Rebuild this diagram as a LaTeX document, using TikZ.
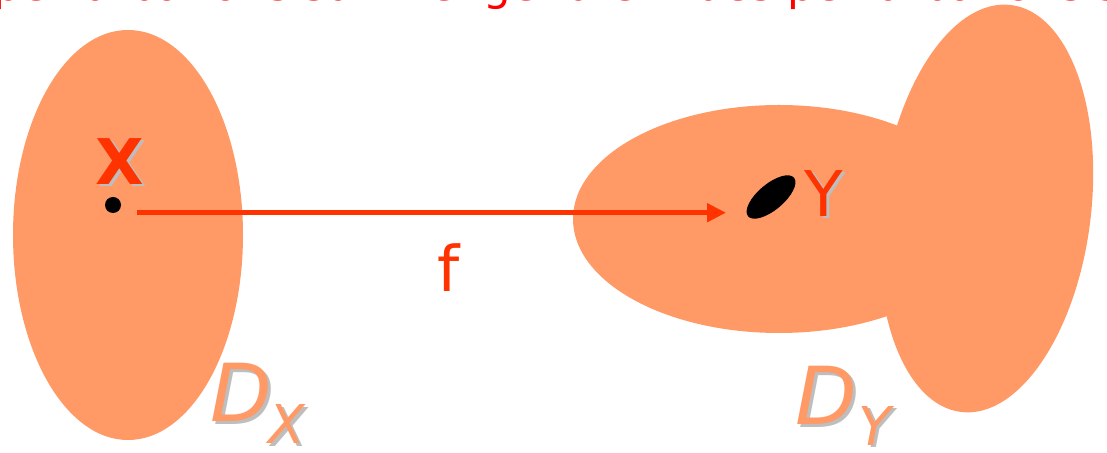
\documentclass[tikz,border=0pt]{standalone}
\usepackage{fontspec}
\setmainfont{DejaVu Sans}
\usetikzlibrary{arrows.meta}
\definecolor{salmon}{HTML}{FF9966}
\definecolor{fred}{HTML}{FF3300}
\definecolor{shade}{HTML}{BEBEBE}
\begin{document}
\begin{tikzpicture}[x=0.5pt,y=-0.5pt,
  lbl/.style={inner sep=0pt, outer sep=0pt, anchor=base},
  lblw/.style={inner sep=0pt, outer sep=0pt, anchor=base west},
  bigfont/.style={font=\fontsize{31.5}{31.5}\selectfont},
  dfont/.style={font=\fontsize{40}{40}\selectfont\itshape},
  subfont/.style={font=\fontsize{26.75}{26.75}\selectfont\itshape},
  region/.style={fill=salmon}]
\useasboundingbox (0,0) rectangle (1107,453);
\clip (0,0) rectangle (1107,453);
% caption (cut off at the top)
\node[lblw, text=red, font=\fontsize{21.8}{21.8}\selectfont] (caption) at (-6,1) {perturbations sur X engendrent des perturbations sur Y};
% domains
\fill[region] (128,235) ellipse [x radius=57.5pt, y radius=102.5pt];
\fill[region] (779,219) ellipse [x radius=103pt, y radius=57pt];
\fill[region, rotate around={-7:(986,208.5)}] (986,208.5) ellipse [x radius=52.5pt, y radius=102.5pt];
% points
\node[circle, fill=black, minimum size=8pt, inner sep=0pt] (xdot) at (113,205) {};
\fill[black, rotate around={40:(771,197)}] (771,197) ellipse [x radius=15pt, y radius=6.5pt];
% arrow f
\coordinate (fstart) at (137,212.7);
\coordinate (fend) at (726,212.7);
\draw[fred, line width=2.5pt, -{Triangle[length=9.5pt,width=9pt]}] (fstart) -- (fend);
% labels
\node[lbl, bigfont, text=shade] (xlab-s) at (123,187) {\bfseries X};
\node[lbl, bigfont, text=fred] (xlab) at (120,185) {\bfseries X};
\node[lbl, bigfont, text=shade] (ylab-s) at (826.5,219) {Y};
\node[lbl, bigfont, text=fred] (ylab) at (823.5,217) {Y};
\node[lbl, bigfont, text=fred] (flab) at (449,292) {f};
% D_X
\node[lblw, dfont, text=shade] (dx-s) at (213.5,425) {D};
\node[lblw, dfont, text=salmon] (dx) at (210.5,422) {D};
\node[lblw, subfont, text=shade] (dxs-s) at (271,447) {X};
\node[lblw, subfont, text=salmon] (dxs) at (268,444) {X};
% D_Y
\node[lblw, dfont, text=shade] (dy-s) at (798.5,428) {D};
\node[lblw, dfont, text=salmon] (dy) at (795.5,425) {D};
\node[lblw, subfont, text=shade] (dys-s) at (861,448) {Y};
\node[lblw, subfont, text=salmon] (dys) at (858,445) {Y};
\end{tikzpicture}
\end{document}
